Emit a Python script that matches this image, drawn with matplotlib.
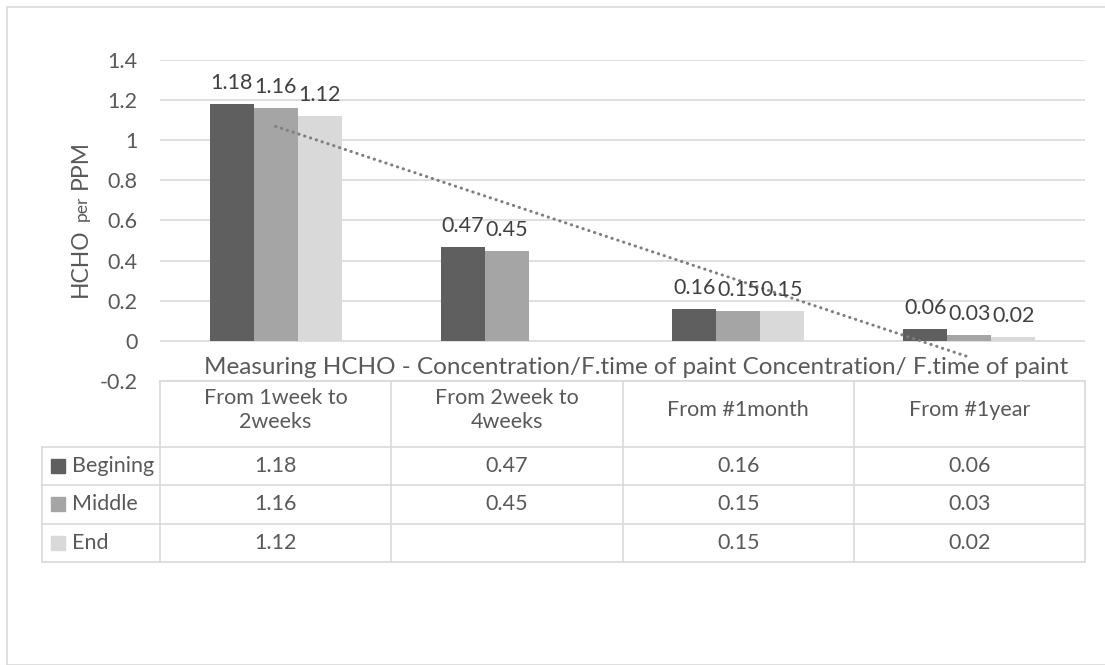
import numpy as np
import matplotlib
matplotlib.use("Agg")
import matplotlib.pyplot as plt
from matplotlib.patches import Rectangle

plt.rcParams['font.family'] = ['Lato', 'DejaVu Sans']

# data
categories = ["From 1week to\n2weeks", "From 2week to\n4weeks", "From #1month", "From #1year"]
series_names = ["Begining", "Middle", "End"]
begining = [1.18, 0.47, 0.16, 0.06]
middle = [1.16, 0.45, 0.15, 0.03]
end = [1.12, None, 0.15, 0.02]
series_values = [begining, middle, end]
series_colors = ["#5f5f5f", "#a5a5a5", "#d9d9d9"]
y_ticks = [-0.2, 0, 0.2, 0.4, 0.6, 0.8, 1, 1.2, 1.4]
x_title = "Measuring HCHO - Concentration/F.time of paint Concentration/ F.time of paint"

W, H = 1105, 665
TXT = "#595959"
GRID = "#d9d9d9"
FS = 15.5

fig = plt.figure(figsize=(W / 100, H / 100), dpi=100)
fig.patches.append(Rectangle((7 / W, 0), 1.2, 1 - 7 / H, transform=fig.transFigure,
                             fill=False, edgecolor=GRID, lw=1.2, zorder=-1))

# plot area
ax = fig.add_axes([160 / W, 1 - 381 / H, 925 / W, 321 / H])
x = np.arange(len(categories))
bar_w = 0.19
for i, (vals, col) in enumerate(zip(series_values, series_colors)):
    for xi, v in zip(x, vals):
        if v is None:
            continue
        xb = xi + (i - 1) * bar_w
        ax.bar(xb, v, width=bar_w, color=col, zorder=2)
        ax.text(xb, v + 0.055, f"{v:.2f}", ha="center", va="bottom",
                fontsize=FS, color="#404040", zorder=4)

# linear trendline on the End series (blank cell skipped, like Excel)
ex = np.array([xi for xi, v in zip(x, end) if v is not None])
ey = np.array([v for v in end if v is not None])
k, b = np.polyfit(ex, ey, 1)
ax.plot(x[[0, -1]], k * x[[0, -1]] + b, color="#7f7f7f", lw=2.2,
        linestyle=(0, (0.1, 1.9)), dash_capstyle="round", zorder=3)

ax.set_xlim(-0.5, len(categories) - 0.5)
ax.set_ylim(-0.2, 1.4)
ax.set_yticks(y_ticks)
ax.set_yticklabels([f"{t:g}" for t in y_ticks])
ax.set_xticks([])
ax.tick_params(axis="y", length=0, pad=16, labelsize=FS, labelcolor=TXT)
ax.yaxis.grid(True, color=GRID, lw=1.2, zorder=0)
for s in ax.spines.values():
    s.set_visible(False)
ax.text(0.515, 13 / 321, x_title, transform=ax.transAxes, ha="center",
        va="center", fontsize=17.5, color=TXT)

# y label with the small "per", built bottom-up
fig.canvas.draw()
r = fig.canvas.get_renderer()
parts = [("HCHO", 16.5), ("per", 12.5), ("PPM", 16.5)]
xb = 87
ys = 297
for txt, fs in parts:
    t = fig.text(xb / W, 1 - ys / H, txt, rotation=90, rotation_mode="anchor",
                 ha="left", va="baseline", fontsize=fs, color=TXT)
    bb = t.get_window_extent(r)
    ys = ys - bb.height - 7

# data table under the plot
cw = 231.25          # px per category
rh = 38.5            # px per table row
left_px = 118
tax = fig.add_axes([42 / W, 1 - 562 / H, 1043 / W, 181 / H])
x0 = -0.5 - left_px / cw
tax.set_xlim(x0, len(categories) - 0.5)
hdr = 66 / rh
nrows = len(series_names)
tax.set_ylim(hdr + nrows, 0)
tax.axis("off")
lk = dict(color=GRID, lw=1.2, clip_on=False)
tax.plot([-0.5, len(categories) - 0.5], [0, 0], **lk)
for j in range(nrows + 1):
    tax.plot([x0, len(categories) - 0.5], [hdr + j, hdr + j], **lk)
tax.plot([x0, x0], [hdr, hdr + nrows], **lk)
for c in range(len(categories) + 1):
    tax.plot([c - 0.5, c - 0.5], [0, hdr + nrows], **lk)
for c, cat in enumerate(categories):
    tax.text(c, hdr / 2 - 4 / rh, cat, ha="center", va="center", fontsize=FS,
             color=TXT, linespacing=1.25)
for j, (name, vals, col) in enumerate(zip(series_names, series_values, series_colors)):
    yc = hdr + j + 0.5
    tax.add_patch(Rectangle((x0 + 9 / cw, yc - 7 / rh), 14 / cw, 14 / rh,
                            color=col, clip_on=False))
    tax.text(x0 + 30 / cw, yc, name, ha="left", va="center", fontsize=FS, color=TXT)
    for c, v in enumerate(vals):
        if v is not None:
            tax.text(c, yc, f"{v:.2f}", ha="center", va="center", fontsize=FS, color=TXT)

fig.savefig("out.png", dpi=100)
